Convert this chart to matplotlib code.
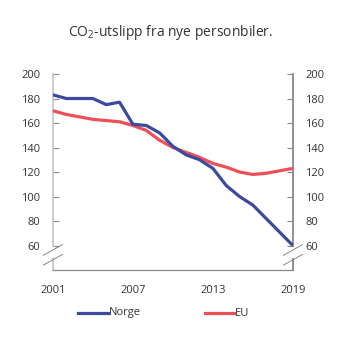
import matplotlib
matplotlib.use("Agg")
import matplotlib.pyplot as plt
from matplotlib.lines import Line2D

plt.rcParams['font.family'] = ['Open Sans', 'DejaVu Sans']
plt.rcParams['mathtext.default'] = 'regular'

years = list(range(2001, 2020))
norge = [183, 180, 180, 180, 175, 177, 159, 158, 152, 141, 134, 130, 123, 109, 100, 93, 82, 71, 60]
eu = [170, 167, 165, 163, 162, 161, 158, 154, 146, 140, 136, 132, 127, 124, 120, 118, 119, 121, 123]
yticks = [60, 80, 100, 120, 140, 160, 180, 200]
xticks = [2001, 2007, 2013, 2019]

blue = '#3B4A9F'
red = '#EE4E57'
dark = '#333333'

fig = plt.figure(figsize=(3.41, 3.41), dpi=100)
ax = fig.add_axes([0.155, 0.208, 0.704, 0.575])
ax.plot(years, eu, color=red, lw=2.3, solid_capstyle='butt', zorder=3)
ax.plot(years, norge, color=blue, lw=2.3, solid_capstyle='butt', zorder=4)
ax.set_xlim(2001, 2019)
ax.set_ylim(40, 200)

for s in ax.spines.values():
    s.set_visible(False)

ax.set_yticks(yticks)
ax.set_yticklabels([str(v) for v in yticks])
ax.tick_params(axis='y', direction='in', length=4, width=0.8, color='#888888',
               labelsize=8, labelcolor=dark, pad=9, left=True, right=True,
               labelleft=True, labelright=True)
ax.set_xticks(xticks)
ax.set_xticklabels([str(v) for v in xticks])
ax.tick_params(axis='x', length=0, labelsize=8, labelcolor=dark, pad=11)

tr = ax.transAxes
def yfrac(v):
    return (v - 40) / 160.0
gap_top = yfrac(59.3)
gap_bot = yfrac(49)
for x0, c in [(0, '#c8c8c8'), (1, '#888888')]:
    ax.add_line(Line2D([x0, x0], [gap_top, 1], transform=tr, color=c, lw=1.3, clip_on=False))
    ax.add_line(Line2D([x0, x0], [0, gap_bot], transform=tr, color=c, lw=1.3, clip_on=False))
ax.add_line(Line2D([0, 1], [0, 0], transform=tr, color='#888888', lw=0.9, clip_on=False))
for x0 in [0, 1]:
    for yb in [yfrac(52), yfrac(44)]:
        ax.add_line(Line2D([x0 - 0.04, x0 + 0.04], [yb, yb + 0.055], transform=tr,
                           color='#777777', lw=0.6, clip_on=False))

fig.text(0.5, 0.905, 'CO$_2$-utslipp fra nye personbiler.', ha='center', va='center',
         fontsize=10, color=dark)

fig.add_artist(Line2D([78/341, 108/341], [1-313/341, 1-313/341], color=blue, lw=2.3))
fig.text(109/341, 1-313/341, 'Norge', va='center', ha='left', fontsize=8, color=dark)
fig.add_artist(Line2D([205/341, 234/341], [1-313/341, 1-313/341], color=red, lw=2.3))
fig.text(235/341, 1-313/341, 'EU', va='center', ha='left', fontsize=8, color=dark)

fig.savefig('out.png', dpi=100)
